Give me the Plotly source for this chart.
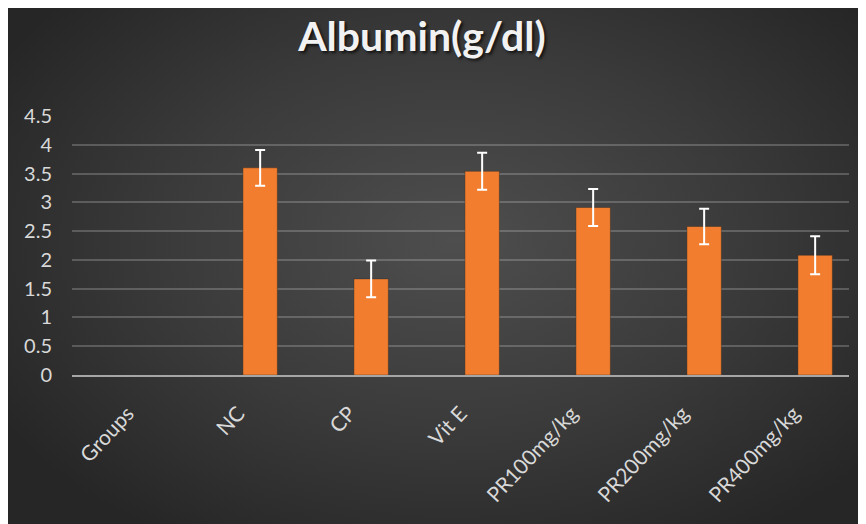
import base64
import plotly.graph_objects as go

categories = ["Groups", "NC", "CP", "Vit E", "PR100mg/kg", "PR200mg/kg", "PR400mg/kg"]
albumin = [None, 3.60, 1.67, 3.54, 2.91, 2.58, 2.08]
albumin_err = [None, 0.31, 0.32, 0.32, 0.32, 0.31, 0.33]
y_ticks = [0, 0.5, 1, 1.5, 2, 2.5, 3, 3.5, 4, 4.5]
y_tick_labels = ["0", "0.5", "1", "1.5", "2", "2.5", "3", "3.5", "4", "4.5"]

# page body has an 8px margin; figure is made large enough to fill to the window edges
W, H = 866, 524
L, T = 64, 108
pw, ph = 777, 259
R, B = W - L - pw, H - T - ph

svg = (
    '<svg xmlns="http://www.w3.org/2000/svg" width="858" height="516" viewBox="0 0 858 516" preserveAspectRatio="none">'
    '<defs><radialGradient id="g" cx="0.52" cy="0.45" r="0.62" gradientTransform="translate(0.52 0.45) scale(1 1.1) translate(-0.52 -0.45)">'
    '<stop offset="0" stop-color="#4e4e4e"/>'
    '<stop offset="0.55" stop-color="#3a3a3a"/>'
    '<stop offset="1" stop-color="#262626"/>'
    '</radialGradient></defs>'
    '<rect width="858" height="516" fill="url(#g)"/></svg>'
)
bg_src = "data:image/svg+xml;base64," + base64.b64encode(svg.encode()).decode()

fig = go.Figure()
fig.add_trace(go.Bar(
    x=categories,
    y=albumin,
    width=0.31,
    offset=0.04,
    marker=dict(color="#F27D2E", line=dict(width=0.8, color="rgba(40,40,40,0.5)")),
    error_y=dict(type="data", array=albumin_err, visible=True,
                 color="#ffffff", thickness=2, width=5),
    showlegend=False,
))

fig.update_layout(
    width=W, height=H,
    margin=dict(l=L, r=R, t=T, b=B, pad=0),
    paper_bgcolor="#262626",
    plot_bgcolor="rgba(0,0,0,0)",
    images=[dict(
        source=bg_src, xref="paper", yref="paper",
        x=-L / pw, y=(T + ph) / ph,
        sizex=858 / pw, sizey=516 / ph,
        xanchor="left", yanchor="top", sizing="stretch", layer="below",
    )],
    title=dict(
        text="<b>Albumin(g/dl)</b>",
        x=414 / W, xref="container", xanchor="center",
        y=(H - 29) / H, yref="container", yanchor="middle",
        font=dict(family="Lato", size=41, color="#f2f2f2",
                  shadow="2px 2px 3px rgba(0,0,0,0.7)"),
    ),
    font=dict(family="Lato", color="#d9d9d9"),
)
fig.update_yaxes(
    range=[0, 4.5], tickvals=y_ticks, ticktext=y_tick_labels,
    showgrid=True, gridcolor="rgba(200,200,200,0.28)", gridwidth=1.5,
    zeroline=False, showline=False,
    tickfont=dict(size=20, color="#d9d9d9"),
    ticklabelstandoff=19,
)
fig.update_xaxes(
    type="category", showgrid=False, tickangle=-47,
    showline=True, linecolor="#a6a6a6", linewidth=2,
    tickfont=dict(size=21, color="#d9d9d9"),
    ticklabelstandoff=16,
)

fig.write_html("out.html")
